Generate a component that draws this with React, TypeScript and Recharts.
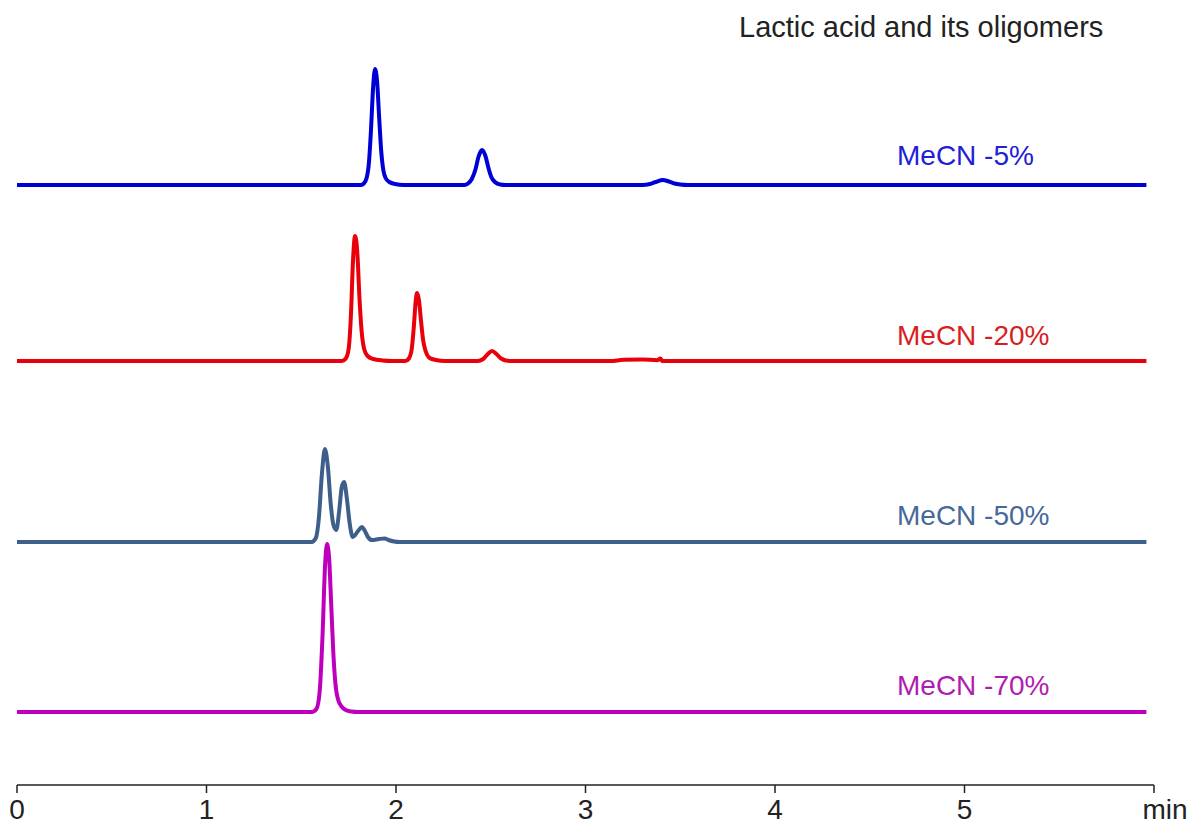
import React from "react";
import { LineChart, Line, XAxis, YAxis } from "recharts";

// retention time (min) vs detector signal
const MECN_5: [number, number][] = [
  [0, 0], [1.815, 0], [1.83, 1.5], [1.845, 7], [1.857, 22], [1.868, 55], [1.879, 97], [1.889, 116],
  [1.9, 104], [1.911, 68], [1.922, 34], [1.933, 15], [1.945, 7], [1.965, 3], [1.995, 1], [2.04, 0],
  [2.36, 0], [2.38, 1.5], [2.4, 6], [2.42, 16], [2.435, 28], [2.454, 35], [2.472, 29], [2.488, 17],
  [2.503, 8], [2.522, 3], [2.55, 0.5], [2.58, 0],
  [3.3, 0], [3.34, 1], [3.37, 3], [3.409, 5], [3.44, 3.5], [3.47, 1.5], [3.5, 0.5], [3.54, 0],
  [5.96, 0],
];

const MECN_20: [number, number][] = [
  [0, 0], [1.715, 0], [1.735, 2.5], [1.75, 12], [1.762, 45], [1.773, 100], [1.784, 125], [1.796, 108],
  [1.807, 64], [1.818, 31], [1.832, 12], [1.85, 5], [1.88, 2], [1.93, 0.5], [1.98, 0],
  [2.05, 0], [2.068, 2.5], [2.083, 12], [2.094, 34], [2.104, 60], [2.111, 68], [2.121, 61], [2.132, 40],
  [2.143, 21], [2.158, 9], [2.178, 3], [2.21, 1], [2.26, 0],
  [2.43, 0], [2.46, 2], [2.485, 7], [2.507, 10], [2.53, 7], [2.555, 2.5], [2.58, 0.5], [2.61, 0],
  [3.13, 0], [3.2, 1.2], [3.3, 1.5], [3.38, 0.8], [3.395, 2.5], [3.405, 0],
  [5.96, 0],
];

const MECN_50: [number, number][] = [
  [0, 0], [1.555, 0], [1.577, 4], [1.593, 24], [1.609, 68], [1.625, 93], [1.641, 74], [1.656, 37],
  [1.67, 17], [1.685, 12], [1.7, 31], [1.714, 55], [1.726, 60], [1.741, 43], [1.756, 18], [1.772, 5],
  [1.8, 11], [1.82, 15], [1.836, 11], [1.852, 5], [1.873, 2], [1.91, 3], [1.94, 3.5], [1.96, 2],
  [1.99, 0.5], [2.02, 0],
  [5.96, 0],
];

const MECN_70: [number, number][] = [
  [0, 0], [1.555, 0], [1.58, 3], [1.597, 20], [1.612, 75], [1.626, 148], [1.636, 168], [1.647, 154],
  [1.658, 108], [1.669, 60], [1.68, 29], [1.695, 12], [1.715, 5], [1.735, 2], [1.765, 0.5], [1.8, 0],
  [5.96, 0],
];

const TIME_TICKS = [0, 1, 2, 3, 4, 5, 6];
const TITLE = "Lactic acid and its oligomers";
const SERIES_NAMES = ["MeCN -5%", "MeCN -20%", "MeCN -50%", "MeCN -70%"];

const toRows = (pts: [number, number][]) => pts.map(([t, v]) => ({ t, v }));

const FONT = "'Liberation Sans', Arial, sans-serif";

// plot spans y 20..785; each trace gets its own hidden axis so its zero sits at its baseline
const PLOT_TOP = 20;
const PLOT_BOTTOM = 785;
const traces = [
  { name: SERIES_NAMES[0], data: toRows(MECN_5), base: 185, line: "#0000d6", text: "#2020d8", labelY: 165 },
  { name: SERIES_NAMES[1], data: toRows(MECN_20), base: 361, line: "#e8000a", text: "#d81e1e", labelY: 345 },
  { name: SERIES_NAMES[2], data: toRows(MECN_50), base: 542, line: "#3e5f8a", text: "#46689a", labelY: 525 },
  { name: SERIES_NAMES[3], data: toRows(MECN_70), base: 712, line: "#be00be", text: "#b01cb0", labelY: 695 },
];

function TimeTick(props: any) {
  const { x, y, payload } = props;
  const isUnit = payload.value === 6;
  return (
    <text
      x={x + (isUnit ? 11 : 0)}
      y={y + 24}
      textAnchor="middle"
      fontSize={28}
      fontFamily={FONT}
      fill="#222"
    >
      {isUnit ? "min" : payload.value}
    </text>
  );
}

export default function App() {
  return (
    <div style={{ position: "absolute", left: 0, top: 0, width: 1191, height: 825, background: "#fff" }}>
      <LineChart
        width={1191}
        height={825}
        margin={{ top: PLOT_TOP, right: 37, bottom: 0, left: 17 }}
      >
        <XAxis
          dataKey="t"
          type="number"
          domain={[0, 6]}
          ticks={TIME_TICKS}
          allowDataOverflow
          height={40}
          tickSize={8}
          axisLine={{ stroke: "#222", strokeWidth: 1.5 }}
          tickLine={{ stroke: "#222", strokeWidth: 1.5 }}
          tick={<TimeTick />}
        />
        {traces.map((tr, i) => (
          <YAxis
            key={i}
            yAxisId={i}
            type="number"
            hide
            allowDataOverflow
            domain={[-(PLOT_BOTTOM - tr.base), tr.base - PLOT_TOP]}
          />
        ))}
        {traces.map((tr, i) => (
          <Line
            key={i}
            yAxisId={i}
            data={tr.data}
            dataKey="v"
            type="monotone"
            stroke={tr.line}
            strokeWidth={4}
            strokeLinejoin="round"
            dot={false}
            activeDot={false}
            isAnimationActive={false}
          />
        ))}
      </LineChart>
      <svg
        width={1191}
        height={825}
        style={{ position: "absolute", left: 0, top: 0, pointerEvents: "none" }}
      >
        <text x={739} y={37} fontSize={29} fontFamily={FONT} fill="#222">
          {TITLE}
        </text>
        {traces.map((tr, i) => (
          <text key={i} x={897} y={tr.labelY} fontSize={28} fontFamily={FONT} fill={tr.text}>
            {tr.name}
          </text>
        ))}
      </svg>
    </div>
  );
}
